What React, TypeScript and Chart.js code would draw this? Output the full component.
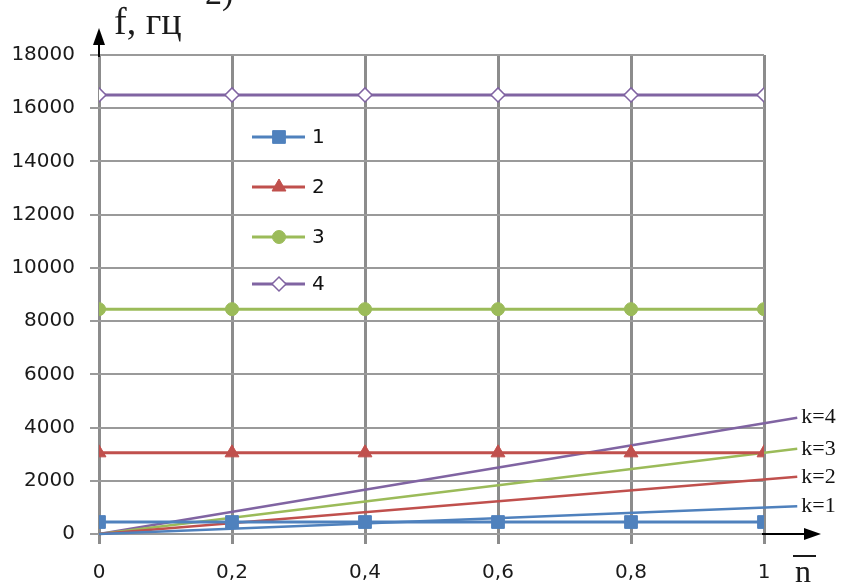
import React, { useEffect, useRef } from "react";
import { Chart, registerables } from "chart.js";
import { drawPoint } from "chart.js/helpers";

Chart.register(...registerables);

const nValues = [0, 0.2, 0.4, 0.6, 0.8, 1];
const series1 = [450, 450, 450, 450, 450, 450];
const series2 = [3050, 3050, 3050, 3050, 3050, 3050];
const series3 = [8450, 8450, 8450, 8450, 8450, 8450];
const series4 = [16500, 16500, 16500, 16500, 16500, 16500];
const seriesNames = ["1", "2", "3", "4"];

const kLabels = ["k=1", "k=2", "k=3", "k=4"];
const kStartN = 0;
const kEndN = 1.05;
const kEndValues = [1045, 2150, 3200, 4370];

const yTicks = { min: 0, max: 18000, step: 2000 };
const xTicks = { min: 0, max: 1, step: 0.2 };

const BLUE = "#4f81bd";
const RED = "#c0504d";
const GREEN = "#9bbb59";
const PURPLE = "#8064a2";
const kColors = [BLUE, RED, GREEN, PURPLE];

const SANS = "'DejaVu Sans', sans-serif";
const SERIF = "'Liberation Serif', serif";

const overlayPlugin = {
  id: "overlay",
  afterDraw(chart: any) {
    const ctx = chart.ctx as CanvasRenderingContext2D;
    const xs = chart.scales.x;
    const ys = chart.scales.y;
    const area = chart.chartArea;
    ctx.save();

    // k labels
    ctx.fillStyle = "#111";
    ctx.font = "22px " + SERIF;
    ctx.textBaseline = "middle";
    ctx.textAlign = "left";
    kLabels.forEach((lab, i) => {
      const px = xs.getPixelForValue(kEndN) + 4;
      const py = ys.getPixelForValue(kEndValues[i]);
      ctx.fillText(lab, px, py);
    });

    // legend inside
    const legendX = 252;
    const legendRows = [137, 187, 237, 284];
    [0, 1, 2, 3].forEach((di, i) => {
      const ds = chart.data.datasets[di];
      const y = legendRows[i];
      ctx.strokeStyle = ds.borderColor;
      ctx.lineWidth = 3;
      ctx.beginPath();
      ctx.moveTo(legendX, y);
      ctx.lineTo(legendX + 53, y);
      ctx.stroke();
      ctx.fillStyle = ds.pointBackgroundColor;
      ctx.strokeStyle = ds.pointBorderColor;
      ctx.lineWidth = ds.pointBorderWidth ?? 1;
      drawPoint(
        ctx,
        { pointStyle: ds.pointStyle, radius: ds.pointRadius, borderWidth: ds.pointBorderWidth ?? 1, rotation: 0 } as any,
        legendX + 27,
        y
      );
      ctx.fillStyle = "#111";
      ctx.font = "20px " + SANS;
      ctx.textBaseline = "middle";
      ctx.textAlign = "left";
      ctx.fillText(seriesNames[i], legendX + 60, y + 1);
    });

    // axes arrows
    ctx.strokeStyle = "#000";
    ctx.fillStyle = "#000";
    ctx.lineWidth = 2;
    const x0 = xs.getPixelForValue(0);
    const y0 = ys.getPixelForValue(0);
    ctx.beginPath();
    ctx.moveTo(x0, area.top + 2);
    ctx.lineTo(x0, 40);
    ctx.stroke();
    ctx.beginPath();
    ctx.moveTo(x0, 28);
    ctx.lineTo(x0 - 6, 45);
    ctx.lineTo(x0 + 6, 45);
    ctx.closePath();
    ctx.fill();
    ctx.beginPath();
    ctx.moveTo(area.right - 2, y0);
    ctx.lineTo(808, y0);
    ctx.stroke();
    ctx.beginPath();
    ctx.moveTo(821, y0);
    ctx.lineTo(804, y0 - 6);
    ctx.lineTo(804, y0 + 6);
    ctx.closePath();
    ctx.fill();

    // axis titles
    ctx.fillStyle = "#1a1a1a";
    ctx.font = "38px " + SERIF;
    ctx.textBaseline = "alphabetic";
    ctx.textAlign = "left";
    ctx.fillText("f, гц", 114, 34);
    ctx.font = "34px " + SERIF;
    ctx.fillText("2)", 205, 4);

    ctx.font = "32px " + SERIF;
    ctx.fillText("n", 795, 582);
    ctx.lineWidth = 2;
    ctx.strokeStyle = "#1a1a1a";
    ctx.beginPath();
    ctx.moveTo(793, 556);
    ctx.lineTo(816, 556);
    ctx.stroke();

    ctx.restore();
  },
};

export default function App() {
  const ref = useRef<HTMLCanvasElement | null>(null);

  useEffect(() => {
    document.body.style.margin = "0";
    const canvas = ref.current;
    if (!canvas) return;

    const pts = (vals: number[]) => nValues.map((n, i) => ({ x: n, y: vals[i] }));

    const seriesDatasets: any[] = [
      {
        label: seriesNames[0],
        data: pts(series1),
        borderColor: BLUE,
        backgroundColor: BLUE,
        pointBackgroundColor: BLUE,
        pointBorderColor: BLUE,
        pointStyle: "rect",
        pointRadius: 9,
        pointBorderWidth: 1,
        borderWidth: 3,
      },
      {
        label: seriesNames[1],
        data: pts(series2),
        borderColor: RED,
        backgroundColor: RED,
        pointBackgroundColor: RED,
        pointBorderColor: RED,
        pointStyle: "triangle",
        pointRadius: 8,
        pointBorderWidth: 1,
        borderWidth: 3,
      },
      {
        label: seriesNames[2],
        data: pts(series3),
        borderColor: GREEN,
        backgroundColor: GREEN,
        pointBackgroundColor: GREEN,
        pointBorderColor: GREEN,
        pointStyle: "circle",
        pointRadius: 6.5,
        pointBorderWidth: 1,
        borderWidth: 3,
      },
      {
        label: seriesNames[3],
        data: pts(series4),
        borderColor: PURPLE,
        backgroundColor: "#ffffff",
        pointBackgroundColor: "#ffffff",
        pointBorderColor: PURPLE,
        pointStyle: "rectRot",
        pointRadius: 7,
        pointBorderWidth: 1.5,
        borderWidth: 3,
      },
    ];

    const kDatasets: any[] = kLabels.map((lab, i) => ({
      label: lab,
      data: [
        { x: kStartN, y: 0 },
        { x: kEndN, y: kEndValues[i] },
      ],
      borderColor: kColors[i],
      backgroundColor: kColors[i],
      borderWidth: 2.5,
      pointRadius: 0,
      clip: false,
    }));

    const chart = new Chart(canvas, {
      type: "line",
      data: { datasets: [...seriesDatasets, ...kDatasets] },
      options: {
        animation: false,
        responsive: false,
        maintainAspectRatio: false,
        layout: { padding: { top: 55, right: 77, left: 0, bottom: 0 } },
        plugins: {
          legend: { display: false },
          tooltip: { enabled: false },
          title: { display: false },
        },
        scales: {
          x: {
            type: "linear",
            min: xTicks.min,
            max: xTicks.max,
            afterFit: (s: any) => {
              s.height = 53;
            },
            ticks: {
              stepSize: xTicks.step,
              padding: 17,
              color: "#1a1a1a",
              font: { family: SANS, size: 20 },
              callback: (v: any) => String(Math.round(Number(v) * 10) / 10).replace(".", ","),
            },
            grid: {
              color: "#8c8c8c",
              lineWidth: 3,
              tickLength: 10,
              drawTicks: true,
            },
            border: { display: false },
          },
          y: {
            type: "linear",
            min: yTicks.min,
            max: yTicks.max,
            afterFit: (s: any) => {
              s.width = 99;
            },
            ticks: {
              stepSize: yTicks.step,
              padding: 15,
              color: "#1a1a1a",
              font: { family: SANS, size: 20 },
              callback: (v: any) => String(v),
            },
            grid: {
              color: "#9a9a9a",
              lineWidth: 2,
              tickLength: 9,
            },
            border: { display: false },
          },
        },
      },
      plugins: [overlayPlugin],
    });

    return () => chart.destroy();
  }, []);

  return (
    <div style={{ position: "absolute", left: 0, top: 0, width: 841, height: 587, background: "#fff" }}>
      <canvas ref={ref} width={841} height={587} style={{ width: 841, height: 587 }} />
    </div>
  );
}
